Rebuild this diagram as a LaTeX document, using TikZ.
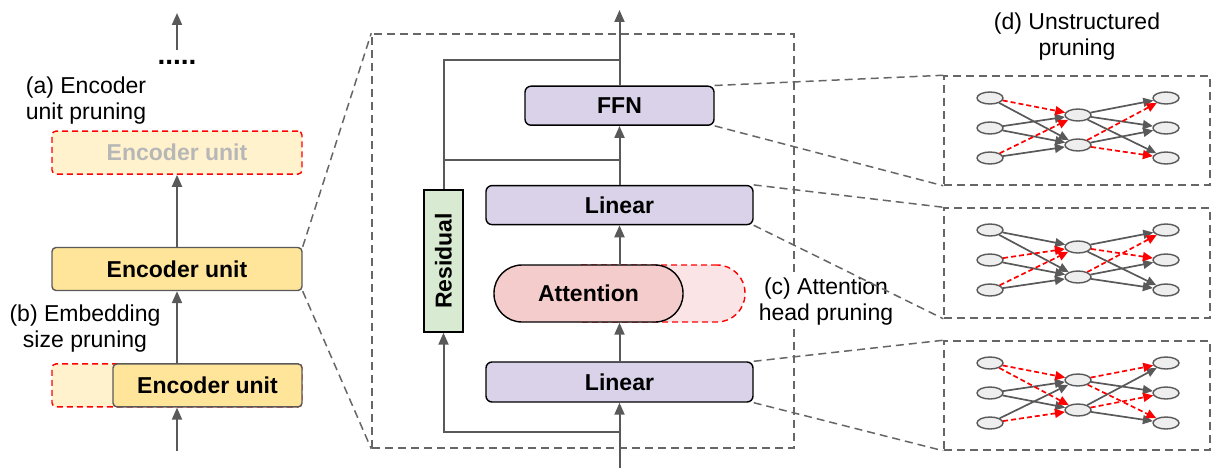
\documentclass[tikz,border=0pt]{standalone}
\usepackage{fontspec}
\setmainfont{Liberation Sans}
\usetikzlibrary{
    shapes.geometric,
    arrows.meta,
    positioning,
    calc
}

\definecolor{linegray}{HTML}{595959}
\definecolor{framegray}{HTML}{666666}
\definecolor{encfill}{HTML}{FFE599}
\definecolor{encghost}{HTML}{FFF2CC}
\definecolor{layerfill}{HTML}{D9D2E9}
\definecolor{attnfill}{HTML}{F4CCCC}
\definecolor{attnghost}{HTML}{FBE4E5}
\definecolor{resfill}{HTML}{D9EAD3}
\definecolor{neuronfill}{HTML}{EEEEEE}
\definecolor{fadetext}{HTML}{B7B7B7}

\begin{document}
\begin{tikzpicture}[
    x=1pt, y=-1pt,
    font=\fontsize{23}{26}\selectfont,
    encoder/.style={rectangle, rounded corners=4pt, minimum width=250pt, minimum height=43pt, inner sep=0pt,
                    draw=linegray, line width=1.4pt, fill=encfill, font=\fontsize{23}{26}\selectfont\bfseries},
    pruned/.style={encoder, draw=red, dash pattern=on 6pt off 4pt, fill=encghost, text=fadetext},
    layer/.style={rectangle, rounded corners=6pt, minimum height=39pt, inner sep=0pt,
                  draw=black, line width=1.4pt, fill=layerfill, font=\fontsize{23}{26}\selectfont\bfseries},
    attention/.style={rectangle, rounded corners=28pt, minimum width=189pt, minimum height=57pt, inner sep=0pt,
                      draw=black, line width=1.4pt, fill=attnfill, font=\fontsize{23}{26}\selectfont\bfseries},
    residual/.style={rectangle, rotate=90, minimum width=142pt, minimum height=39pt, inner sep=0pt,
                     draw=black, line width=1.4pt, fill=resfill, font=\fontsize{23}{26}\selectfont\bfseries},
    frame/.style={rectangle, inner sep=0pt, draw=framegray, line width=1.5pt, dash pattern=on 8pt off 5pt},
    zoomline/.style={draw=framegray, line width=1.5pt, dash pattern=on 8pt off 5pt},
    caption/.style={align=center, inner sep=1pt},
    neuron/.style={ellipse, minimum width=26pt, minimum height=12pt, inner sep=0pt,
                   draw=linegray, line width=1.4pt, fill=neuronfill},
    arrow/.style={-{Triangle[length=12pt,width=10pt]}, draw=linegray, line width=2pt},
    wire/.style={draw=linegray, line width=2pt},
    link/.style={-{Triangle[length=10pt,width=9pt]}, draw=linegray, line width=1.7pt},
    cut/.style={-{Triangle[length=10pt,width=9pt]}, draw=red, line width=1.7pt, dash pattern=on 5pt off 3pt}
]
    \useasboundingbox (0,0) rectangle (1212,468);

    % Encoder stack
    \node (encB) [encoder] at (177,269) {Encoder unit};
    \node (encA) [pruned, above=72pt of encB] {Encoder unit};
    \node (encCg) [pruned, below=72pt of encB] {};
    \node (encC) [encoder, minimum width=189pt, anchor=east] at (encCg.east) {Encoder unit};
    \node (dots) at (177,62) {\fontsize{28}{28}\selectfont\bfseries .....};
    \coordinate (topL) at (177,13);
    \coordinate (dotsTop) at (177,50);
    \coordinate (inL) at (177,451);

    \node (labA) [caption] at (86,101) {(a) Encoder\\unit pruning};
    \node (labB) [caption] at (85,329) {(b) Embedding\\size pruning};

    \draw [arrow] (dotsTop) -- (topL);
    \draw [arrow] (encB) -- (encA);
    \draw [arrow] (encC.north -| encB) -- (encB);
    \draw [arrow] (inL) -- (encCg.south);

    % Zoomed encoder unit
    \node (zoombox) [frame, minimum width=422pt, minimum height=414pt] at (583,241) {};
    \draw [zoomline] (encB.north east) -- (zoombox.north west);
    \draw [zoomline] (encB.south east) -- (zoombox.south west);

    \node (lin2) [layer, minimum width=267pt, minimum height=40pt] at (619.5,382) {Linear};
    \node (lin1) [layer, minimum width=267pt, above=136pt of lin2] {Linear};
    \node (ffn) [layer, minimum width=189pt, above=59pt of lin1] {FFN};
    \node (attnG) [attention, draw=red, dash pattern=on 6pt off 4pt, fill=attnghost] at (650.5,293.5) {};
    \node (attn) [attention] at (588.5,293.5) {Attention};
    \node (res) [residual] at (443.5,261) {Residual};
    \node (labC) [caption, fill=white] at (826,302) {(c) Attention\\head pruning};

    \coordinate (inM) at (619.5,470);
    \coordinate (split) at (619.5,432);
    \coordinate (sumA) at (619.5,160);
    \coordinate (sumB) at (619.5,60);
    \coordinate (outM) at (619.5,10);

    \draw [arrow] (inM) -- (lin2);
    \draw [arrow] (lin2) -- (lin2.north |- attn.south);
    \draw [arrow] (lin2.north |- attn.north) -- (lin1);
    \draw [arrow] (lin1) -- (ffn);
    \draw [arrow] (ffn) -- (outM);
    \draw [arrow] (split) -| (res.west);
    \draw [wire] (res.east) |- (sumA);
    \draw [wire] (res.east) |- (sumB);

    % Unstructured pruning panels
    \node (labD) [caption] at (1077,37) {(d) Unstructured\\pruning};
    \node (pf) [frame, minimum width=266pt, minimum height=109pt] at (1077,130.5) {};
    \node (pu) [frame, minimum width=266pt, minimum height=110pt] at (1077,263) {};
    \node (pv) [frame, minimum width=266pt, minimum height=109pt] at (1077,395.5) {};

    \draw [zoomline] (ffn.north east) -- (pf.north west);
    \draw [zoomline] (ffn.south east) -- (pf.south west);
    \draw [zoomline] (lin1.north east) -- (pu.north west);
    \draw [zoomline] (lin1.south east) -- (pu.south west);
    \draw [zoomline] (lin2.north east) -- (pv.north west);
    \draw [zoomline] (lin2.south east) -- (pv.south west);

    \foreach \p/\t in {f/76, u/208, v/341} {
        \foreach \i/\dy in {1/22, 2/52, 3/82} {
            \node (\p l\i) [neuron] at (990,{\t+\dy}) {};
            \node (\p r\i) [neuron] at (1166,{\t+\dy}) {};
        }
        \foreach \i/\dy in {1/39, 2/69}
            \node (\p m\i) [neuron] at (1078,{\t+\dy}) {};
    }

    % FFN weights
    \foreach \a/\b in {l1/m2, l2/m1, l2/m2, l3/m2, m1/r1, m1/r2, m1/r3, m2/r2}
        \draw [link] (f\a) -- (f\b);
    \foreach \a/\b in {l1/m1, l3/m1, m2/r1, m2/r3}
        \draw [cut] (f\a) -- (f\b);

    % upper Linear weights
    \foreach \a/\b in {l1/m1, l1/m2, l2/m2, l3/m2, m1/r1, m1/r3, m2/r2, m2/r3}
        \draw [link] (u\a) -- (u\b);
    \foreach \a/\b in {l2/m1, l3/m1, m1/r2, m2/r1}
        \draw [cut] (u\a) -- (u\b);

    % lower Linear weights
    \foreach \a/\b in {l2/m1, l2/m2, l3/m1, m1/r2, m2/r1, m2/r3}
        \draw [link] (v\a) -- (v\b);
    \foreach \a/\b in {l1/m1, l1/m2, l3/m2, m1/r1, m1/r3, m2/r2}
        \draw [cut] (v\a) -- (v\b);

\end{tikzpicture}
\end{document}
